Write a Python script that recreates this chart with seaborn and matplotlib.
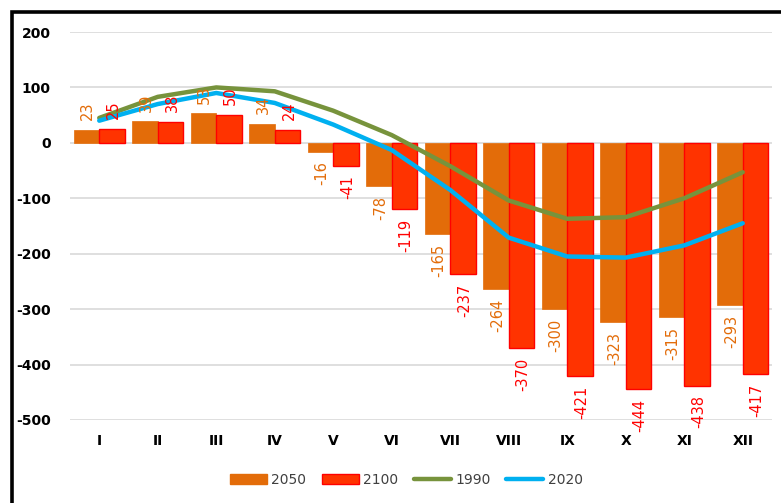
import numpy as np
import pandas as pd
import matplotlib
matplotlib.use("Agg")
import matplotlib.pyplot as plt
from matplotlib.patches import Patch, Rectangle
from matplotlib.lines import Line2D
import seaborn as sns

months = ["I", "II", "III", "IV", "V", "VI", "VII", "VIII", "IX", "X", "XI", "XII"]
bars_2050 = [23, 39, 53, 34, -16, -78, -165, -264, -300, -323, -315, -293]
bars_2100 = [25, 38, 50, 24, -41, -119, -237, -370, -421, -444, -438, -417]
line_1990 = [45, 83, 100, 93, 58, 14, -42, -104, -137, -134, -100, -53]
line_2020 = [40, 70, 90, 72, 33, -13, -85, -171, -205, -207, -185, -145]
y_ticks = [200, 100, 0, -100, -200, -300, -400, -500]

c2050 = "#E36C09"
c2100 = "#FF3300"
c2100_edge = "#FF0000"
c1990 = "#77933C"
c2020 = "#00B0F0"

sns.set_theme(style="white")
plt.rcParams["font.family"] = ["DejaVu Sans"]
plt.rcParams["axes.unicode_minus"] = False

fig = plt.figure(figsize=(7.81, 5.03), dpi=100)
ax = fig.add_axes([70 / 781, 1 - 420 / 503, 702 / 781, 388 / 503])

df = pd.DataFrame({
    "month": months * 2,
    "value": bars_2050 + bars_2100,
    "series": ["2050"] * 12 + ["2100"] * 12,
})
sns.barplot(data=df, x="month", y="value", hue="series", order=months,
            palette={"2050": c2050, "2100": c2100}, width=0.88,
            saturation=1, legend=False, ax=ax, zorder=2)

for p in ax.containers[0]:
    p.set_edgecolor(c2050)
    p.set_linewidth(0.5)
for p in ax.containers[1]:
    p.set_edgecolor(c2100_edge)
    p.set_linewidth(1.0)

xs = np.arange(len(months))
sns.lineplot(x=xs, y=line_1990, color=c1990, linewidth=3.2, ax=ax, zorder=3)
sns.lineplot(x=xs, y=line_2020, color=c2020, linewidth=3.2, ax=ax, zorder=4)

# value labels, rotated, just beyond the bar ends
for cont, vals, col in [(ax.containers[0], bars_2050, c2050),
                        (ax.containers[1], bars_2100, "#FF0000")]:
    for p, v in zip(cont, vals):
        xc = p.get_x() + p.get_width() / 2
        off = 7 if v >= 0 else -7
        ax.annotate(f"{v}", (xc, v), xytext=(1, off), textcoords="offset points",
                    rotation=90, ha="center", va="bottom" if v >= 0 else "top",
                    fontsize=10.5, color=col, clip_on=False, zorder=5)

ax.set_xlim(-0.5, 11.5)
ax.set_ylim(-500, 200)
ax.set_yticks(y_ticks)
ax.grid(axis="y", color="#D9D9D9", linewidth=1.2, zorder=0)
ax.grid(axis="x", visible=False)
for s in ax.spines.values():
    s.set_visible(False)
ax.set_xlabel("")
ax.set_ylabel("")
ax.tick_params(axis="y", length=0, pad=14, labelsize=10, labelcolor="#000000")
ax.tick_params(axis="x", length=0, pad=10, labelsize=10, labelcolor="#000000")
for t in ax.get_xticklabels() + ax.get_yticklabels():
    t.set_fontweight("bold")

handles = [
    Patch(facecolor=c2050, edgecolor=c2050),
    Patch(facecolor=c2100, edgecolor=c2100_edge),
    Line2D([0], [0], color=c1990, linewidth=3.2),
    Line2D([0], [0], color=c2020, linewidth=3.2),
]
fig.legend(handles, ["2050", "2100", "1990", "2020"], loc="center",
           bbox_to_anchor=(0.52, 1 - 480 / 503), ncol=4, frameon=False,
           fontsize=10, labelcolor="#404040", handlelength=2.7,
           handleheight=0.65, handletextpad=0.3, columnspacing=1.1)

# outer frame of the chart area
frame = Rectangle((11.5 / 781, -0.2), 1.3, 1.2 - 11.5 / 503,
                  transform=fig.transFigure, fill=False, edgecolor="black",
                  linewidth=2.6, clip_on=False)
fig.patches.append(frame)

fig.savefig("out.png", dpi=100)
